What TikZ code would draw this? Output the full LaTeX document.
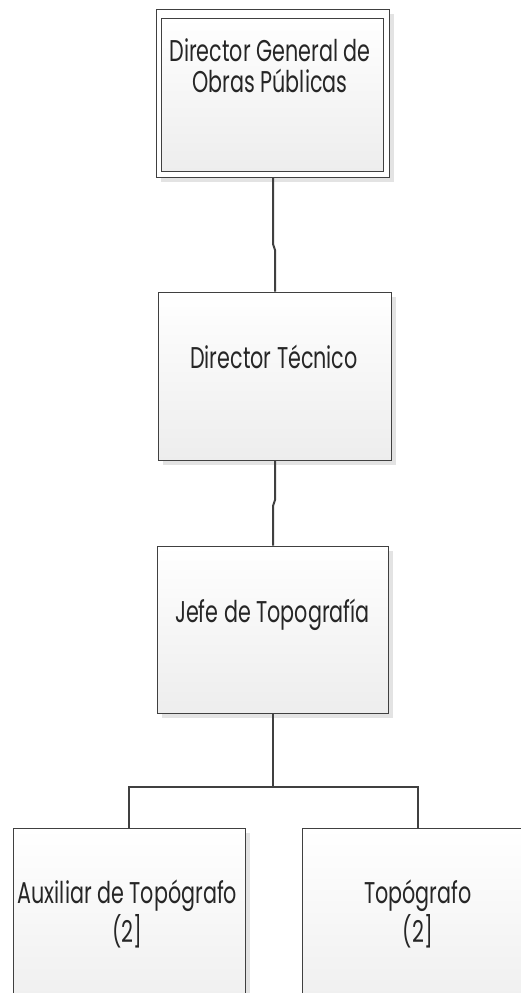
\documentclass[tikz,border=0pt]{standalone}
\usepackage{fontspec}
\setmainfont{Poppins}[FakeStretch=0.69]
\usetikzlibrary{shadows}
\definecolor{edge}{HTML}{404040}
\definecolor{shadowgray}{HTML}{E3E3E3}
\begin{document}
\begin{tikzpicture}[x=1pt,y=-1pt,
  boxbase/.style={draw=edge, line width=1pt, inner sep=0pt, top color=white, bottom color=black!7},
  orgbox/.style={boxbase, minimum width=233pt, minimum height=168pt,
    drop shadow={shadow xshift=5pt, shadow yshift=-5pt, fill=shadowgray, opacity=1}},
  txt/.style={anchor=base, inner sep=0pt, font=\fontsize{30}{32}\selectfont, text=black!85},
  conn/.style={draw=edge, line width=2pt}]
\useasboundingbox (0,0) rectangle (521,993);
\fill[white] (0,0) rectangle (521,993);
\begin{scope}
\clip (0,0) rectangle (521,993);
% top box (double border)
\node[orgbox, fill=white, top color=white, bottom color=white] (dg) at (272.5,93) {};
\node[boxbase, minimum width=222pt, minimum height=153pt] (dgin) at (272,94.5) {};
\node[txt] (dg1) at (270,61) {Director General de};
\node[txt] (dg2) at (270,92) {Obras Públicas};
% Director Tecnico
\node[orgbox] (dt) at (274.5,376) {};
\node[txt] (dtt) at (274,368) {Director Técnico};
% Jefe
\node[orgbox, minimum width=231pt, minimum height=167pt] (jf) at (272.5,629.5) {};
\node[txt] (jft) at (272.5,622) {Jefe de Topografía};
% bottom boxes
\node[orgbox, minimum width=232pt, minimum height=200pt] (aux) at (129,928) {};
\node[txt] (aux1) at (127.5,903) {Auxiliar de Topógrafo};
\node[txt] (aux2) at (127.5,942) {(2]};
\node[orgbox, minimum width=232pt, minimum height=200pt] (top) at (418,928) {};
\node[txt] (top1) at (418,903) {Topógrafo};
\node[txt] (top2) at (418,942) {(2]};
% connectors
\coordinate (j1a) at (273,244);
\coordinate (j1b) at (275,250);
\draw[conn] (dg.south -| j1a) -- (j1a) -- (j1b) -- (j1b |- dt.north);
\coordinate (j2a) at (275,500);
\coordinate (j2b) at (273,506);
\draw[conn] (dt.south -| j2a) -- (j2a) -- (j2b) -- (j2b |- jf.north);
\coordinate (bus) at (273,787);
\draw[conn] (jf.south -| bus) -- (bus);
\draw[conn] (aux.north) |- (bus) -| (top.north);
\end{scope}
\end{tikzpicture}
\end{document}
